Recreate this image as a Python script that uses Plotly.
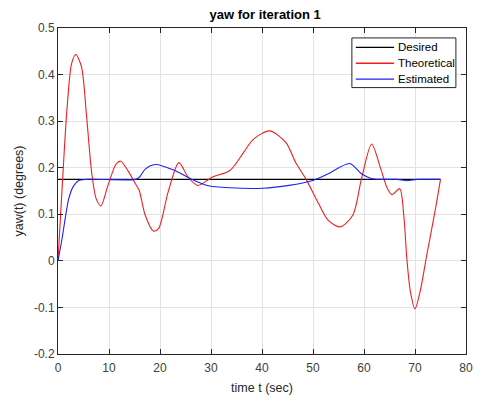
import plotly.graph_objects as go

# ---- data ----
t_desired = [0, 75]
y_desired = [0.175, 0.175]

t_theo = [0, 0.8, 1.8, 2.7, 3.5, 4.6, 5.6, 6.6, 7.5, 8.4, 9.8, 11.4, 12.3, 13.9,
          15.2, 15.9, 17.1, 18.7, 19.7, 21.6, 23.7, 25.5, 27.4, 30.3, 33.7, 36.4,
          38.3, 41.5, 44.7, 46.6, 48.6, 51.1, 53.0, 55.3, 57.8, 59.5, 61.5, 63.3,
          64.6, 65.5, 67.0, 67.8, 68.4, 69.1, 70.0, 71.0, 72.3, 73.9, 75.0]
y_theo = [0.0, 0.155, 0.332, 0.425, 0.443, 0.417, 0.311, 0.19, 0.133, 0.118, 0.162,
          0.208, 0.214, 0.19, 0.165, 0.152, 0.098, 0.064, 0.069, 0.148, 0.211, 0.18,
          0.162, 0.18, 0.194, 0.233, 0.261, 0.279, 0.254, 0.211, 0.176, 0.123, 0.087,
          0.073, 0.098, 0.176, 0.251, 0.197, 0.155, 0.142, 0.155, 0.098, 0.005,
          -0.066, -0.103, -0.066, 0.012, 0.105, 0.175]

t_est = [0, 0.8, 2.1, 3.0, 4.0, 5.5, 15.2, 16.0, 17.1, 19.1, 22.9, 26.1, 29.3,
         33.8, 40.2, 45.3, 49.8, 53.0, 57.2, 59.5, 61.4, 63.3, 66.5, 68.4, 70.5, 75.0]
y_est = [0.0, 0.048, 0.133, 0.16, 0.172, 0.175, 0.175, 0.18, 0.197, 0.207, 0.194,
         0.176, 0.162, 0.157, 0.156, 0.162, 0.172, 0.187, 0.209, 0.187, 0.177,
         0.175, 0.175, 0.172, 0.175, 0.175]

series_names = ["Desired", "Theoretical", "Estimated"]
series_colors = ["#000000", "#f01e1e", "#2020f0"]

x_ticks = [0, 10, 20, 30, 40, 50, 60, 70, 80]
y_ticks = [-0.2, -0.1, 0, 0.1, 0.2, 0.3, 0.4, 0.5]
y_tick_text = ["-0.2", "-0.1", "0", "0.1", "0.2", "0.3", "0.4", "0.5"]

FONT = "Liberation Sans, Arial"

fig = go.Figure()
fig.add_trace(go.Scatter(x=t_desired, y=y_desired, mode="lines", name=series_names[0],
                         line=dict(color=series_colors[0], width=1.1)))
fig.add_trace(go.Scatter(x=t_theo, y=y_theo, mode="lines", name=series_names[1],
                         line=dict(color=series_colors[1], width=1.1, shape="spline", smoothing=0.8)))
fig.add_trace(go.Scatter(x=t_est, y=y_est, mode="lines", name=series_names[2],
                         line=dict(color=series_colors[2], width=1.1, shape="spline", smoothing=0.8)))

axis_common = dict(showline=True, linecolor="#262626", linewidth=1, mirror="ticks",
                   ticks="inside", ticklen=5, tickcolor="#262626",
                   showgrid=True, gridcolor="#e3e3e3", gridwidth=1, zeroline=False,
                   tickfont=dict(family=FONT, size=12, color="#404040"))

fig.update_xaxes(range=[0, 80], tickvals=x_ticks, ticklabelstandoff=3,
                 title=dict(text="time t (sec)", font=dict(family=FONT, size=12.5, color="#262626"), standoff=8),
                 **axis_common)
fig.update_yaxes(range=[-0.2, 0.5], tickvals=y_ticks, ticktext=y_tick_text,
                 title=dict(text="yaw(t) (degrees)", font=dict(family=FONT, size=12.5, color="#262626"), standoff=7),
                 **axis_common)

# ---- legend (MATLAB style compact box) ----
L, R, T, B = 57.5, 473.3, 28.0, 356.3
def px_x(p): return (p - L) / (R - L)
def px_y(p): return (B - p) / (B - T)

shapes = [dict(type="rect", xref="paper", yref="paper",
               x0=px_x(357), x1=px_x(463), y0=px_y(88), y1=px_y(38),
               line=dict(color="#262626", width=1), fillcolor="white", layer="above")]
annotations = []
for i, (nm, col) in enumerate(zip(series_names, series_colors)):
    yy = 47.5 + 16 * i
    shapes.append(dict(type="line", xref="paper", yref="paper",
                       x0=px_x(361), x1=px_x(400), y0=px_y(yy), y1=px_y(yy),
                       line=dict(color=col, width=1.4), layer="above"))
    annotations.append(dict(text=nm, xref="paper", yref="paper", x=px_x(402), y=px_y(yy),
                            xanchor="left", yanchor="middle", showarrow=False,
                            font=dict(family=FONT, size=11.5, color="#000000")))

fig.update_layout(
    width=483, height=402,
    margin=dict(l=57.5, r=9.7, t=28, b=45.7),
    paper_bgcolor="white", plot_bgcolor="white",
    title=dict(text="<b>yaw for iteration 1</b>", x=0.549, xanchor="center", y=0.963, yanchor="middle",
               font=dict(family=FONT, size=13, color="#000000")),
    showlegend=False,
    shapes=shapes,
    annotations=annotations,
)

fig.write_html("out.html")
